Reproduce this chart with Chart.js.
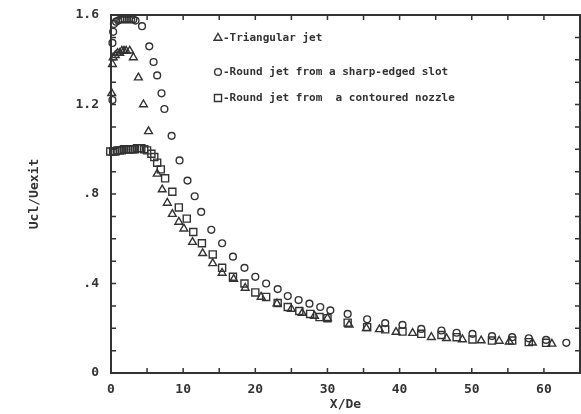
<!DOCTYPE html>
<html>
<head>
<meta charset="utf-8">
<script src="https://cdn.jsdelivr.net/npm/chart.js@4/dist/chart.umd.min.js"></script>
<style>
  html, body { margin: 0; padding: 0; background: #fff; }
  canvas { display: block; }
</style>
</head>
<body>
<canvas id="jetChart" width="581" height="414"></canvas>
<script>
// Centreline velocity decay, Ucl/Uexit against X/De

// Triangular jet
const triX = [0.1, 0.2, 0.3, 0.6, 0.9, 1.2, 1.5, 1.8, 2.1, 2.6,
              3.1, 3.8, 4.5, 5.2, 6.4, 7.1, 7.8, 8.5, 9.4, 10.1,
              11.3, 12.7, 14.1, 15.4, 17.0, 18.6, 20.8, 23.0, 25.0, 26.5,
              28.2, 30.0, 33.0, 35.4, 37.2, 39.5, 41.8, 44.4, 46.5, 48.7,
              51.3, 53.8, 55.2, 58.4, 61.1];
const triY = [1.25, 1.38, 1.41, 1.42, 1.43, 1.43, 1.44, 1.44, 1.44, 1.44,
              1.41, 1.32, 1.20, 1.08, 0.89, 0.82, 0.76, 0.71, 0.675, 0.645,
              0.585, 0.535, 0.49, 0.447, 0.42, 0.38, 0.34, 0.31, 0.286, 0.268,
              0.255, 0.245, 0.215, 0.20, 0.195, 0.183, 0.178, 0.16, 0.155, 0.15,
              0.145, 0.143, 0.14, 0.135, 0.13];

// Round jet from a sharp-edged slot
const slotX = [0.2, 0.2, 0.3, 0.4, 0.7, 1.0, 1.3, 1.6, 1.9, 2.2,
               2.5, 2.8, 3.1, 3.4, 4.3, 5.3, 5.9, 6.4, 7.0, 7.4,
               8.4, 9.5, 10.6, 11.6, 12.5, 13.9, 15.4, 16.9, 18.5, 20.0,
               21.5, 23.1, 24.5, 26.0, 27.5, 29.0, 30.4, 32.8, 35.5, 38.0,
               40.4, 43.0, 45.8, 47.9, 50.1, 52.8, 55.6, 57.9, 60.3, 63.1];
const slotY = [1.22, 1.475, 1.525, 1.56, 1.57, 1.575, 1.58, 1.58, 1.58, 1.58,
               1.58, 1.58, 1.58, 1.575, 1.55, 1.46, 1.39, 1.33, 1.25, 1.18,
               1.06, 0.95, 0.86, 0.79, 0.72, 0.64, 0.58, 0.52, 0.47, 0.43,
               0.40, 0.375, 0.344, 0.326, 0.31, 0.295, 0.28, 0.264, 0.24, 0.223,
               0.215, 0.197, 0.19, 0.18, 0.175, 0.165, 0.16, 0.155, 0.148, 0.135];

// Round jet from a contoured nozzle
const nozzleX = [-0.1, 0.3, 0.6, 0.9, 1.2, 1.5, 1.8, 2.1, 2.4, 2.7,
                 3.0, 3.3, 3.6, 3.9, 4.2, 4.6, 5.0, 5.6, 6.0, 6.4,
                 6.9, 7.5, 8.5, 9.4, 10.5, 11.4, 12.6, 14.1, 15.4, 16.9,
                 18.5, 20.0, 21.5, 23.1, 24.5, 26.1, 27.6, 28.9, 30.0, 32.8,
                 35.5, 38.0, 40.4, 43.0, 45.8, 47.9, 50.1, 52.8, 55.6, 57.9,
                 60.3];
const nozzleY = [0.99, 0.99, 0.99, 0.995, 0.995, 0.995, 1.0, 1.0, 1.0, 1.0,
                 1.0, 1.0, 1.005, 1.005, 1.005, 1.0, 0.995, 0.98, 0.965, 0.94,
                 0.91, 0.87, 0.81, 0.74, 0.69, 0.63, 0.58, 0.53, 0.47, 0.43,
                 0.40, 0.36, 0.34, 0.313, 0.295, 0.277, 0.264, 0.25, 0.245, 0.225,
                 0.205, 0.195, 0.185, 0.175, 0.17, 0.16, 0.15, 0.145, 0.145, 0.138,
                 0.135];

const seriesLabels = ['Triangular jet', 'Round jet from a sharp-edged slot', 'Round jet from  a contoured nozzle'];

const ink = '#333';
const monoFont = '"DejaVu Sans Mono", monospace';

function toPoints(xs, ys) {
    return xs.map((x, i) => ({ x: x, y: ys[i] }));
}

// box frame with inward ticks on all four sides
const frameTicks = {
    id: 'frameTicks',
    beforeDatasetsDraw(chart) {
        const { ctx, chartArea: a, scales: { x, y } } = chart;
        ctx.save();
        ctx.strokeStyle = ink;
        ctx.lineWidth = 2;
        ctx.strokeRect(a.left, a.top, a.right - a.left, a.bottom - a.top);
        ctx.lineWidth = 1.5;
        ctx.beginPath();
        for (let v = 5; v < 65; v += 5) {
            const px = x.getPixelForValue(v);
            ctx.moveTo(px, a.bottom); ctx.lineTo(px, a.bottom - 5);
            ctx.moveTo(px, a.top); ctx.lineTo(px, a.top + 5);
        }
        for (let k = 1; k < 16; k++) {
            const py = y.getPixelForValue(k / 10);
            ctx.moveTo(a.left, py); ctx.lineTo(a.left + 5, py);
            ctx.moveTo(a.right, py); ctx.lineTo(a.right - 5, py);
        }
        ctx.stroke();
        ctx.restore();
    }
};

// legend written inside the plot: symbol, dash, text
const innerLegend = {
    id: 'innerLegend',
    afterDraw(chart) {
        const ctx = chart.ctx;
        const rows = [38, 72, 98];
        ctx.save();
        ctx.font = 'bold 11px ' + monoFont;
        ctx.textBaseline = 'middle';
        chart.data.datasets.forEach((ds, i) => {
            ctx.fillStyle = 'rgba(0,0,0,0)';
            ctx.strokeStyle = ink;
            ctx.lineWidth = ds.borderWidth;
            Chart.helpers.drawPoint(ctx, {
                pointStyle: ds.pointStyle,
                radius: ds.pointRadius,
                borderWidth: ds.borderWidth
            }, 218, rows[i]);
            ctx.fillStyle = ink;
            ctx.fillText('-' + ds.label, 223, rows[i]);
        });
        ctx.restore();
    }
};

const common = {
    borderColor: ink,
    backgroundColor: 'rgba(0,0,0,0)',
    borderWidth: 1.4,
    clip: false
};

new Chart(document.getElementById('jetChart'), {
    type: 'scatter',
    data: {
        datasets: [
            Object.assign({ label: seriesLabels[0], data: toPoints(triX, triY), pointStyle: 'triangle', pointRadius: 4.5 }, common),
            Object.assign({ label: seriesLabels[1], data: toPoints(slotX, slotY), pointStyle: 'circle', pointRadius: 3.4 }, common),
            Object.assign({ label: seriesLabels[2], data: toPoints(nozzleX, nozzleY), pointStyle: 'rect', pointRadius: 5 }, common)
        ]
    },
    options: {
        responsive: false,
        animation: false,
        layout: { autoPadding: false, padding: { top: 15, right: 1, left: 0, bottom: 0 } },
        plugins: {
            legend: { display: false },
            tooltip: { enabled: false }
        },
        scales: {
            x: {
                type: 'linear',
                min: 0,
                max: 65,
                afterFit: s => {
                    s.height = 41;
                    s.paddingLeft = 0;
                    s.paddingRight = 0;
                },
                grid: { display: false, drawTicks: false },
                border: { display: false },
                ticks: {
                    stepSize: 10,
                    includeBounds: false,
                    padding: 9,
                    color: ink,
                    font: { family: monoFont, size: 13, weight: 'bold' },
                    maxRotation: 0
                },
                title: {
                    display: true,
                    text: 'X/De',
                    color: ink,
                    padding: { top: 0, bottom: 2 },
                    font: { family: monoFont, size: 13, weight: 'bold' }
                }
            },
            y: {
                min: 0,
                max: 1.6,
                afterFit: s => {
                    s.width = 111;
                    s.paddingTop = 0;
                    s.paddingBottom = 0;
                },
                grid: { display: false, drawTicks: false },
                border: { display: false },
                ticks: {
                    stepSize: 0.4,
                    padding: 12,
                    color: ink,
                    font: { family: monoFont, size: 13, weight: 'bold' },
                    callback: v => v === 0 ? '0' : v.toFixed(1).replace(/^0/, '')
                },
                title: {
                    display: true,
                    text: 'Ucl/Uexit',
                    color: ink,
                    padding: { top: 27, bottom: 0 },
                    font: { family: monoFont, size: 13, weight: 'bold' }
                }
            }
        }
    },
    plugins: [frameTicks, innerLegend]
});
</script>
</body>
</html>
